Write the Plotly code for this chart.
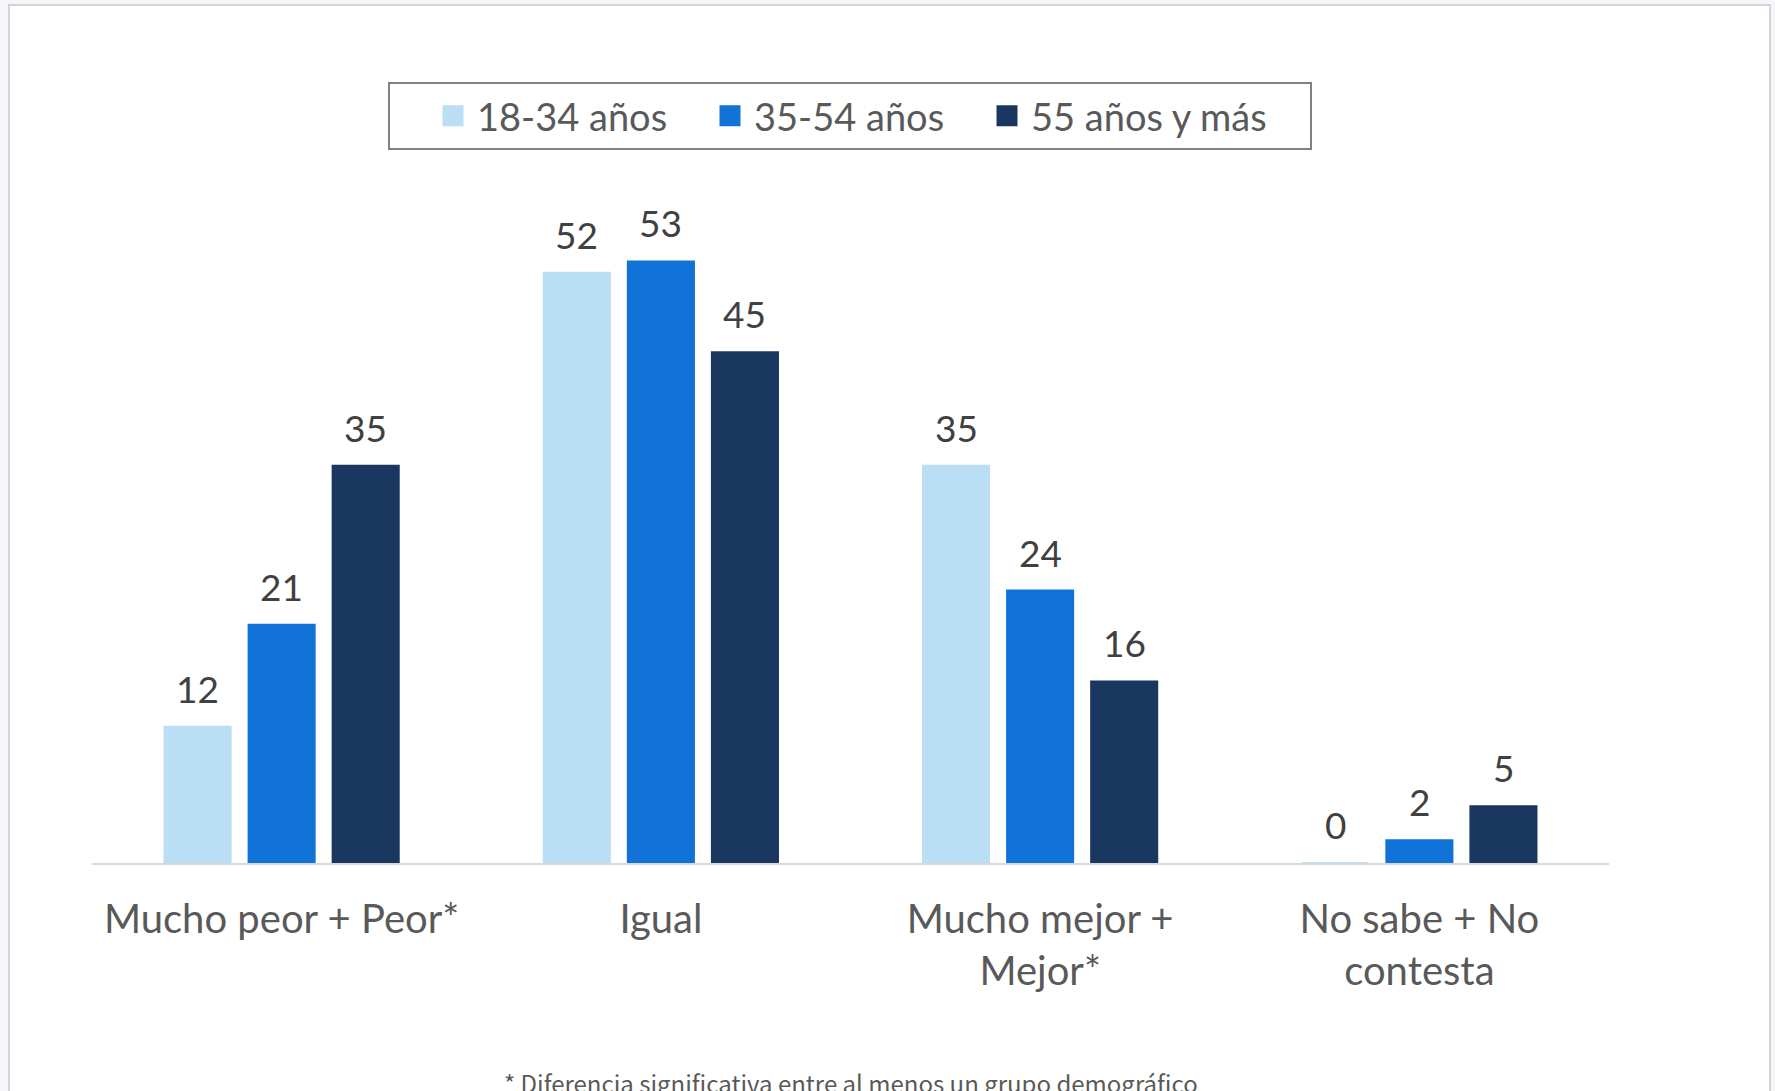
import plotly.graph_objects as go

categories = ["Mucho peor + Peor*", "Igual", "Mucho mejor +<br>Mejor*", "No sabe + No<br>contesta"]
series_names = ["18-34 años", "35-54 años", "55 años y más"]
v_18_34 = [12, 52, 35, 0]
v_35_54 = [21, 53, 24, 2]
v_55_mas = [35, 45, 16, 5]
footnote = "* Diferencia significativa entre al menos un grupo demográfico"

colors = ["#BADEF4", "#1172D7", "#19375F"]
values = [v_18_34, v_35_54, v_55_mas]

W, H = 1775, 1091
ml, mr, mt, mb = 92, 166, 182, 228
plot_w = W - ml - mr
plot_h = H - mt - mb
bargap = 0.335
slot = plot_w / len(categories) * (1 - bargap) / len(values)


def px_x(x):
    return (x - ml) / plot_w


def px_y(y):
    return (H - mb - y) / plot_h


legend_ids = ["legend", "legend2", "legend3"]
legend_left = [429, 706, 983]

fig = go.Figure()
for name, vals, col, lid in zip(series_names, values, colors, legend_ids):
    fig.add_trace(go.Bar(x=categories, y=vals, name=name, showlegend=False,
                         marker=dict(color=col, line=dict(color=col, width=2))))
    # legend entry with a larger square swatch
    fig.add_trace(go.Scatter(x=[None], y=[None], name=name, mode="markers", legend=lid,
                             marker=dict(symbol="square", size=24, color=col,
                                         line=dict(color=col, width=5))))

# value labels above bars
for i, vals in enumerate(values):
    for cat, v in zip(categories, vals):
        fig.add_annotation(x=cat, y=v, text=str(v), showarrow=False, yanchor="bottom",
                           xshift=(i - 1) * slot, yshift=14,
                           font=dict(family="Lato", size=37, color="#404040"))

fig.add_annotation(xref="paper", yref="paper", x=0.5, y=px_y(1082),
                   text=footnote, showarrow=False, yanchor="middle",
                   font=dict(family="Noto Sans CJK JP", size=24, color="#595959"))

# white card with grey border
fig.add_shape(type="rect", xref="paper", yref="paper", layer="below",
              x0=px_x(9), x1=px_x(1770), y0=px_y(1110), y1=px_y(5),
              fillcolor="white", line=dict(color="#d4d4d4", width=2))
# legend frame
fig.add_shape(type="rect", xref="paper", yref="paper", layer="below",
              x0=px_x(389), x1=px_x(1311), y0=px_y(149), y1=px_y(83),
              fillcolor="white", line=dict(color="#808080", width=2))

for lid, left in zip(legend_ids, legend_left):
    fig.update_layout({lid: dict(x=px_x(left), xanchor="left", y=px_y(116), yanchor="middle",
                                 font=dict(family="Lato", size=38, color="#595959"),
                                 borderwidth=0, bgcolor="rgba(0,0,0,0)", itemwidth=38)})

fig.update_layout(
    width=W, height=H,
    margin=dict(l=ml, r=mr, t=mt, b=mb),
    paper_bgcolor="#f5f6fa", plot_bgcolor="rgba(0,0,0,0)",
    barmode="group", bargap=bargap, bargroupgap=0.214,
    font=dict(family="Lato", color="#595959"),
    xaxis=dict(showline=True, linecolor="#d9d9d9", linewidth=2, showgrid=False,
               tickfont=dict(family="Lato", size=40, color="#595959"),
               ticks="outside", ticklen=20, tickcolor="rgba(0,0,0,0)"),
    yaxis=dict(range=[0, 60], visible=False, showgrid=False),
)

fig.write_html("out.html", config={"displayModeBar": False},
               post_script="document.body.style.margin='0';")
